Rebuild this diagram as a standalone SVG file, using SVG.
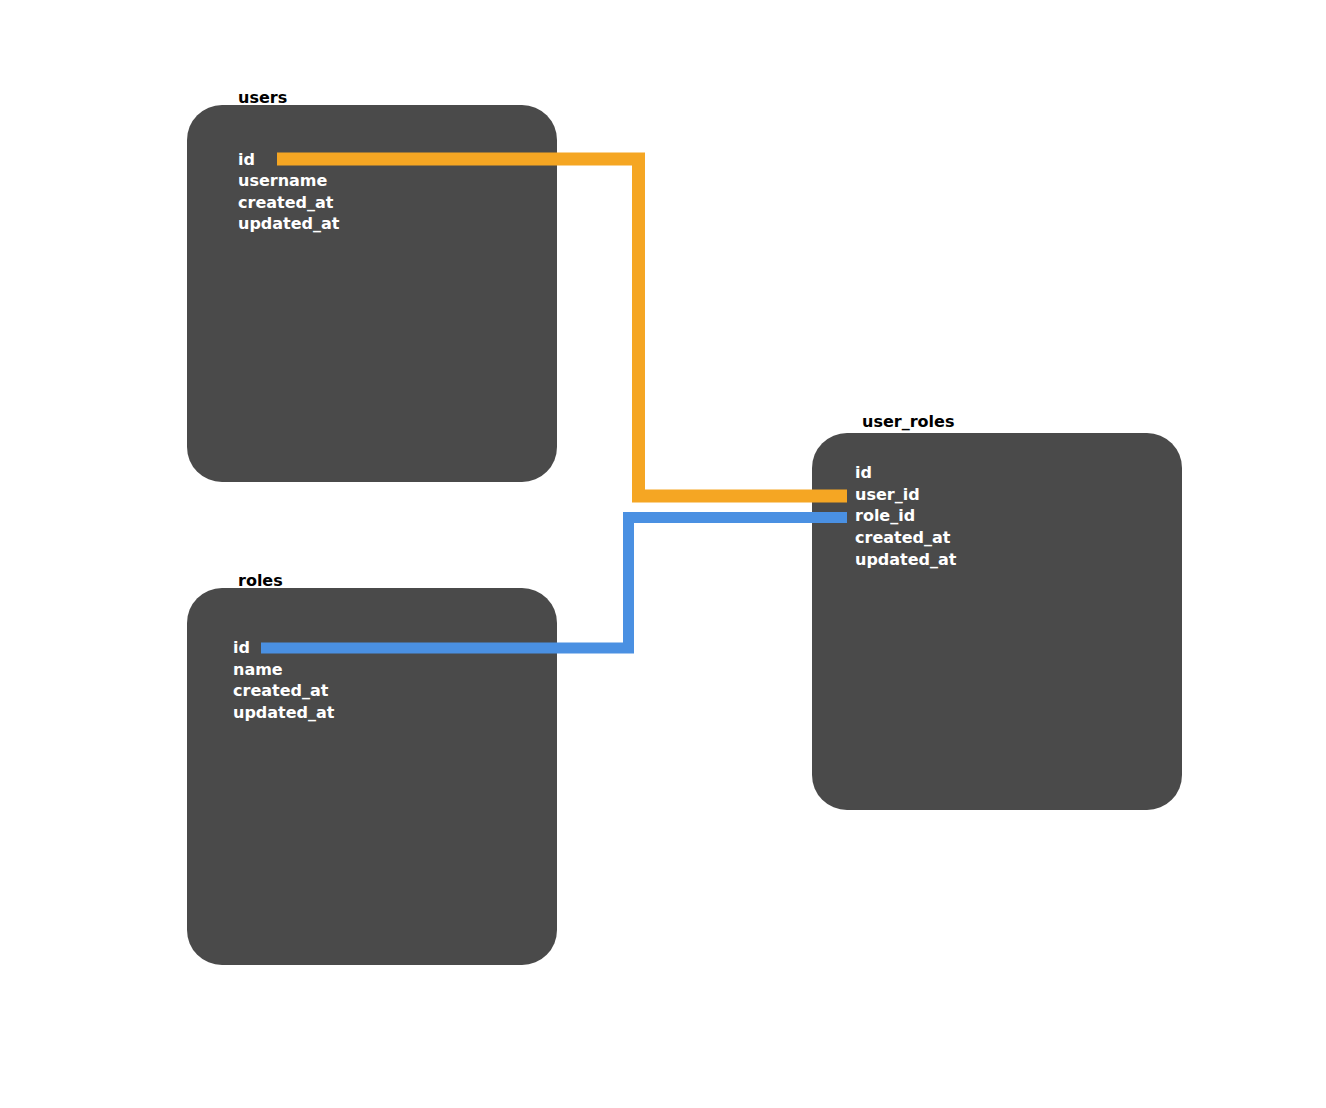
<svg xmlns="http://www.w3.org/2000/svg" width="1326" height="1108" viewBox="0 0 1326 1108">
<style>
.box{fill:#4a4a4a}
.title{font-family:"DejaVu Sans","Liberation Sans",sans-serif;font-weight:bold;font-size:16px;fill:#000}
.field{font-family:"DejaVu Sans","Liberation Sans",sans-serif;font-weight:bold;font-size:16px;fill:#fff}
.conn{fill:none;stroke-linejoin:miter;stroke-linecap:butt}
</style>
<rect width="1326" height="1108" fill="#fff"/>
<g id="users">
<rect class="box" x="187" y="105" width="370" height="377" rx="35"/>
<text class="title" x="238" y="103">users</text>
<text class="field" x="238" y="165">id</text>
<text class="field" x="238" y="186">username</text>
<text class="field" x="238" y="208">created_at</text>
<text class="field" x="238" y="229">updated_at</text>
</g>
<g id="roles">
<rect class="box" x="187" y="588" width="370" height="377" rx="35"/>
<text class="title" x="238" y="586">roles</text>
<text class="field" x="233" y="653">id</text>
<text class="field" x="233" y="675">name</text>
<text class="field" x="233" y="696">created_at</text>
<text class="field" x="233" y="718">updated_at</text>
</g>
<g id="user_roles">
<rect class="box" x="812" y="433" width="370" height="377" rx="35"/>
<text class="title" x="862" y="427">user_roles</text>
<text class="field" x="855" y="478">id</text>
<text class="field" x="855" y="500">user_id</text>
<text class="field" x="855" y="521">role_id</text>
<text class="field" x="855" y="543">created_at</text>
<text class="field" x="855" y="565">updated_at</text>
</g>
<g id="connectors">
<path class="conn" d="M277 159 H638.5 V496 H847" stroke="#f5a623" stroke-width="13"/>
<path class="conn" d="M261 648 H628.5 V517.5 H847" stroke="#4a90e2" stroke-width="11"/>
</g>
</svg>
